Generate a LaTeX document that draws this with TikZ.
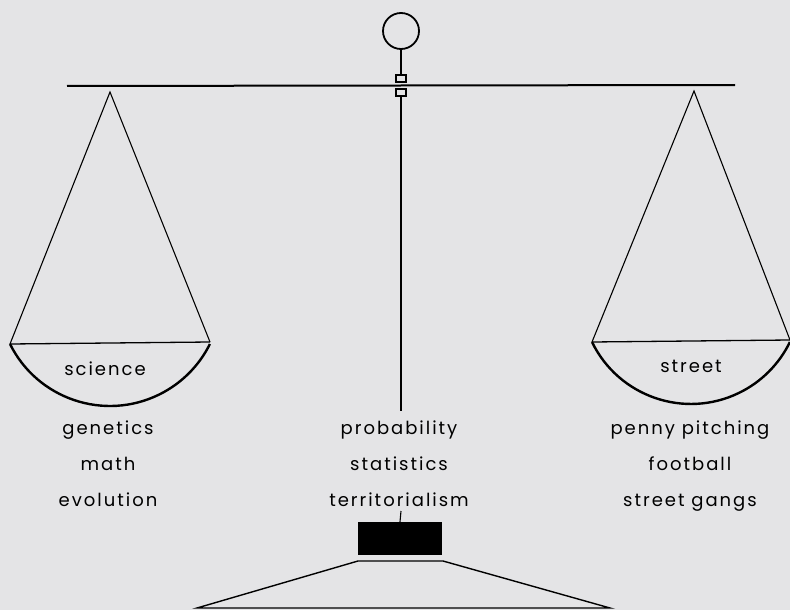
\documentclass[tikz,border=0pt]{standalone}
\usepackage{fontspec}
\setmainfont{Poppins}[LetterSpace=11]
\definecolor{paper}{RGB}{228,228,230}
\begin{document}
\begin{tikzpicture}[
    x=1pt, y=-1pt,
    every node/.style={font=\fontsize{18}{20}\selectfont, inner sep=1pt,
        text height=0.75em, text depth=0.25em},
    beam/.style={line width=2pt},
    cord/.style={line width=1.1pt},
    pan/.style={line width=2.4pt},
    rim/.style={line width=1.3pt},
    clip box/.style={draw, line width=1.2pt, fill=paper}
]

% Paper and frame
\fill[paper] (0,0) rectangle (790,610);
\useasboundingbox (0,0) rectangle (790,610);

% Pivot: ring, stem, links
\draw[line width=1.8pt] (401,31) circle[radius=18pt];
\draw[cord] (401,49) -- (401,75);
\draw[beam] (67,86) -- (735,85);
\node[clip box, minimum width=10pt, minimum height=7pt, inner sep=0pt,
      text height=, text depth=] (linkA) at (401,78.5) {};
\node[clip box, minimum width=10pt, minimum height=7pt, inner sep=0pt,
      text height=, text depth=] (linkB) at (401,92.5) {};
\draw[line width=1.4pt] (linkB.south) -- (401,411);

% Left pan (science)
\coordinate (lapex) at (110,92);
\coordinate (lrimL) at (10,344);
\coordinate (lrimR) at (210,342);
\draw[cord] (lrimL) -- (lapex) -- (lrimR);
\draw[rim] (lrimL) -- (lrimR);
\draw[pan] (lrimL) arc[start angle=206.4, end angle=333.6, radius=111.6pt];

% Right pan (street)
\coordinate (rapex) at (694,91);
\coordinate (rrimL) at (592,342);
\coordinate (rrimR) at (790,340);
\draw[cord] (rrimL) -- (rapex) -- (rrimR);
\draw[rim] (rrimL) -- (rrimR);
\draw[pan] (rrimL) arc[start angle=205.9, end angle=334.1, radius=110pt];

% Pan labels
\node (science) at (105,373) {science};
\node (street)  at (691,370) {street};

% Lists under each pan
\foreach \txt/\y [count=\i] in {genetics/432, math/468, evolution/504}
    \node (sci\i) at (108,\y) {\txt};
\foreach \txt/\y [count=\i] in {probability/432, statistics/468, territorialism/504}
    \node (mid\i) at (399,\y) {\txt};
\foreach \txt/\y [count=\i] in {penny pitching/432, football/468, street gangs/504}
    \node (str\i) at (690,\y) {\txt};

% Base: weight and stand
\node[fill=black, minimum width=84pt, minimum height=33pt, inner sep=0pt,
      text height=, text depth=] (weight) at (400,538.5) {};
\draw[cord] (401,511) -- (weight.north);
\coordinate (standTL) at (358,561);
\coordinate (standTR) at (443,561);
\coordinate (standBL) at (197,608);
\coordinate (standBR) at (610,608);
\draw[line width=1.4pt] (standBL) -- (standTL) -- (standTR) -- (standBR) -- cycle;

\end{tikzpicture}
\end{document}
